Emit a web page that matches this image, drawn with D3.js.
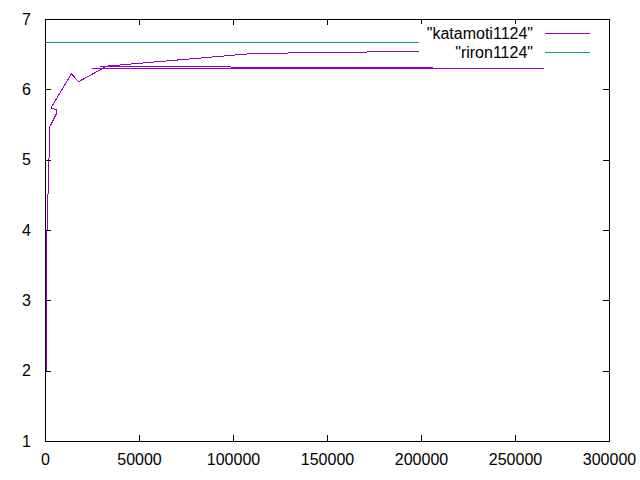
<!DOCTYPE html>
<html>
<head>
<meta charset="utf-8">
<script src="https://cdn.jsdelivr.net/npm/d3@7"></script>
<style>
  html, body { margin: 0; padding: 0; background: #fff; }
  svg { display: block; }
  text { font-family: "Liberation Sans", Arial, sans-serif; font-size: 16px; fill: #000; }
</style>
</head>
<body>
<svg id="chart" width="640" height="480"></svg>
<script>
// ---- data ----
const xTicks = [0, 50000, 100000, 150000, 200000, 250000, 300000];
const yTicks = [1, 2, 3, 4, 5, 6, 7];

// "katamoti1124" : three blocks (runs) in the data file
const katamotiRun1X = [850, 1000, 2600, 6220, 6220, 3190, 13990, 17930, 32980, 110640, 198900, 230000];
const katamotiRun1Y = [1.98, 3.93, 5.47, 5.66, 5.71, 5.735, 6.22, 6.11, 6.33, 6.51, 6.54, 6.545];
const katamotiRun2X = [25000, 265270];
const katamotiRun2Y = [6.296, 6.296];
const katamotiRun3X = [29250, 89360, 206380];
const katamotiRun3Y = [6.324, 6.318, 6.311];

// "riron1124"
const rironX = [0, 265000];
const rironY = [6.669, 6.669];

const seriesNames = ['"katamoti1124"', '"riron1124"'];
const seriesColors = ["#9400d3", "#009e73"];

// ---- chart ----
const svg = d3.select("#chart");
const mLeft = 45, mRight = 609, mTop = 19, mBottom = 441;
const x = d3.scaleLinear().domain([0, 300000]).range([mLeft, mRight]);
const y = d3.scaleLinear().domain([1, 7]).range([mBottom, mTop]);

const zip = (xs, ys) => xs.map((v, i) => [v, ys[i]]);
const line = d3.line().x(d => x(d[0])).y(d => y(d[1]));

const plot = svg.append("g");
[[katamotiRun1X, katamotiRun1Y], [katamotiRun2X, katamotiRun2Y], [katamotiRun3X, katamotiRun3Y]].forEach(([xs, ys]) => {
  plot.append("path")
    .attr("d", line(zip(xs, ys)))
    .attr("fill", "none")
    .attr("stroke", seriesColors[0])
    .attr("stroke-width", 1)
    .attr("shape-rendering", "crispEdges");
});
plot.append("path")
  .attr("d", line(zip(rironX, rironY)))
  .attr("fill", "none")
  .attr("stroke", seriesColors[1])
  .attr("stroke-width", 1)
  .attr("shape-rendering", "crispEdges");

// axes (ticks inward, mirrored)
function styleAxis(g) {
  g.select(".domain").remove();
  g.selectAll(".tick line").attr("stroke", "#000").attr("shape-rendering", "crispEdges");
  g.selectAll(".tick text").attr("font-family", "Liberation Sans, Arial, sans-serif").attr("font-size", 16).attr("fill", "#000");
}
svg.append("g").attr("transform", `translate(0,${mBottom})`)
  .call(d3.axisBottom(x).tickValues(xTicks).tickSize(-6).tickPadding(13).tickFormat(d3.format("d")))
  .call(styleAxis);
svg.append("g").attr("transform", `translate(0,${mTop})`)
  .call(d3.axisTop(x).tickValues(xTicks.slice(1, -1)).tickSize(-6).tickFormat(""))
  .call(styleAxis);
svg.append("g").attr("transform", `translate(${mLeft},0)`)
  .call(d3.axisLeft(y).tickValues(yTicks).tickSize(-6).tickPadding(14).tickFormat(d3.format("d")))
  .call(styleAxis);
svg.append("g").attr("transform", `translate(${mRight},0)`)
  .call(d3.axisRight(y).tickValues(yTicks.slice(1, -1)).tickSize(-6).tickFormat(""))
  .call(styleAxis);

// border
svg.append("rect")
  .attr("x", mLeft).attr("y", mTop)
  .attr("width", mRight - mLeft).attr("height", mBottom - mTop)
  .attr("fill", "none").attr("stroke", "#000").attr("stroke-width", 1)
  .attr("shape-rendering", "crispEdges");

// opaque key
const key = svg.append("g");
key.append("rect")
  .attr("x", 419).attr("y", 24).attr("width", 186).attr("height", 37)
  .attr("fill", "#fff");
seriesNames.forEach((name, i) => {
  const cy = 33 + i * 19;
  key.append("text")
    .attr("x", 533).attr("y", cy + 5.5)
    .attr("text-anchor", "end")
    .text(name);
  key.append("line")
    .attr("x1", 545).attr("x2", 590)
    .attr("y1", cy + 0.5).attr("y2", cy + 0.5)
    .attr("stroke", seriesColors[i]).attr("stroke-width", 1)
    .attr("shape-rendering", "crispEdges");
});
</script>
</body>
</html>
